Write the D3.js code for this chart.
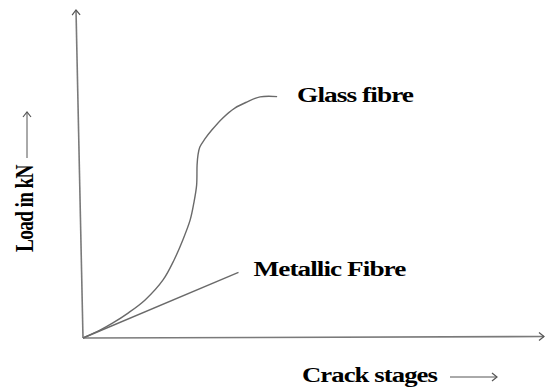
<!DOCTYPE html>
<html>
<head>
<meta charset="utf-8">
<script src="https://cdn.jsdelivr.net/npm/d3@7"></script>
<style>
  body { margin: 0; background: #fff; }
</style>
</head>
<body>
<div id="chart"></div>
<script>
const svgWidth = 545;
const svgHeight = 390;

// values (arbitrary units, 0-100 on both axes)
const glassX = [0, 3.7, 6.5, 9.8, 13.5, 17.4, 19.8, 21.7, 23.3, 24.1, 24.7, 24.8, 25.0, 25.4, 26.5, 28.0, 30.4, 33.0, 35.7, 38.5, 42.2];
const glassY = [0, 2.4, 4.6, 7.6, 11.6, 17.7, 23.8, 29.9, 36.0, 41.2, 46.6, 52.7, 55.8, 58.2, 60.7, 63.4, 67.1, 70.1, 72.0, 73.5, 73.6];
const metalX = [0, 33.8];
const metalY = [0, 20.0];
const seriesNames = ["Glass fibre", "Metallic Fibre"];
const xLabel = "Crack stages";
const yLabel = "Load in kN";

const x = d3.scaleLinear().domain([0, 100]).range([83, 543]);
const y = d3.scaleLinear().domain([0, 100]).range([338, 10]);

const svg = d3.select("#chart")
    .append("svg")
    .attr("width", svgWidth)
    .attr("height", svgHeight);

// open chevron arrow head
svg.append("defs").append("marker")
    .attr("id", "head")
    .attr("markerUnits", "userSpaceOnUse")
    .attr("viewBox", "-8 -6 10 12")
    .attr("markerWidth", 10)
    .attr("markerHeight", 12)
    .attr("refX", 0)
    .attr("refY", 0)
    .attr("orient", "auto")
    .append("path")
    .attr("d", "M-5,-4 L0,0 L-5,4")
    .attr("fill", "none")
    .attr("stroke", "#555")
    .attr("stroke-width", 1.2);

const axisColor = "#7a7a7a";

// axes (hand drawn look: y axis leans a little)
svg.append("line")
    .attr("x1", x(0)).attr("y1", y(0))
    .attr("x2", x(0) - 7).attr("y2", y(100))
    .attr("stroke", axisColor)
    .attr("stroke-width", 1.6)
    .attr("marker-end", "url(#head)");

svg.append("line")
    .attr("x1", x(0)).attr("y1", y(0))
    .attr("x2", x(100) + 1).attr("y2", y(0) - 1.5)
    .attr("stroke", axisColor)
    .attr("stroke-width", 1.6)
    .attr("marker-end", "url(#head)");

const line = d3.line()
    .x(d => x(d[0]))
    .y(d => y(d[1]))
    .curve(d3.curveCatmullRom.alpha(0.5));

const glass = d3.zip(glassX, glassY);
const metal = d3.zip(metalX, metalY);

svg.append("path")
    .datum(glass)
    .attr("d", line)
    .attr("fill", "none")
    .attr("stroke", "#6a6a6a")
    .attr("stroke-width", 1.4);

svg.append("path")
    .datum(metal)
    .attr("d", d3.line().x(d => x(d[0])).y(d => y(d[1])))
    .attr("fill", "none")
    .attr("stroke", "#6a6a6a")
    .attr("stroke-width", 1.4);

const font = "'Liberation Serif', 'Times New Roman', serif";

// text in the sketch is stretched sideways, so scale it to the measured width
function label(tx, ty, str, len) {
    const g = svg.append("g");
    const t = g.append("text")
        .style("font-family", font)
        .style("font-weight", "bold")
        .style("font-size", "20px")
        .style("letter-spacing", "-0.7px")
        .style("fill", "#000")
        .text(str);
    const w = t.node().getComputedTextLength();
    g.attr("transform", `translate(${tx}, ${ty}) scale(${len / w}, 1)`);
}

const gEnd = glass[glass.length - 1];
const mEnd = metal[metal.length - 1];
label(x(gEnd[0]) + 20, y(gEnd[1]) + 5.5, seriesNames[0], 116);
label(x(mEnd[0]) + 15, y(mEnd[1]) + 4, seriesNames[1], 152);

// x axis title with arrow
label(302, 382, xLabel, 135);
svg.append("line")
    .attr("x1", 450).attr("y1", 377)
    .attr("x2", 497).attr("y2", 377)
    .attr("stroke", "#555")
    .attr("stroke-width", 1)
    .attr("marker-end", "url(#head)");

// y axis title with arrow
const yt = svg.append("g");
const ytText = yt.append("text")
    .style("font-family", font)
    .style("font-weight", "bold")
    .style("font-size", "20px")
    .style("letter-spacing", "-0.7px")
    .style("fill", "#000")
    .text(yLabel);
const yw = ytText.node().getComputedTextLength();
yt.attr("transform", `translate(33, 252) rotate(-90) scale(${87 / yw}, 1.3)`);

svg.append("line")
    .attr("x1", 27).attr("y1", 158)
    .attr("x2", 27).attr("y2", 112)
    .attr("stroke", "#555")
    .attr("stroke-width", 1)
    .attr("marker-end", "url(#head)");
</script>
</body>
</html>
